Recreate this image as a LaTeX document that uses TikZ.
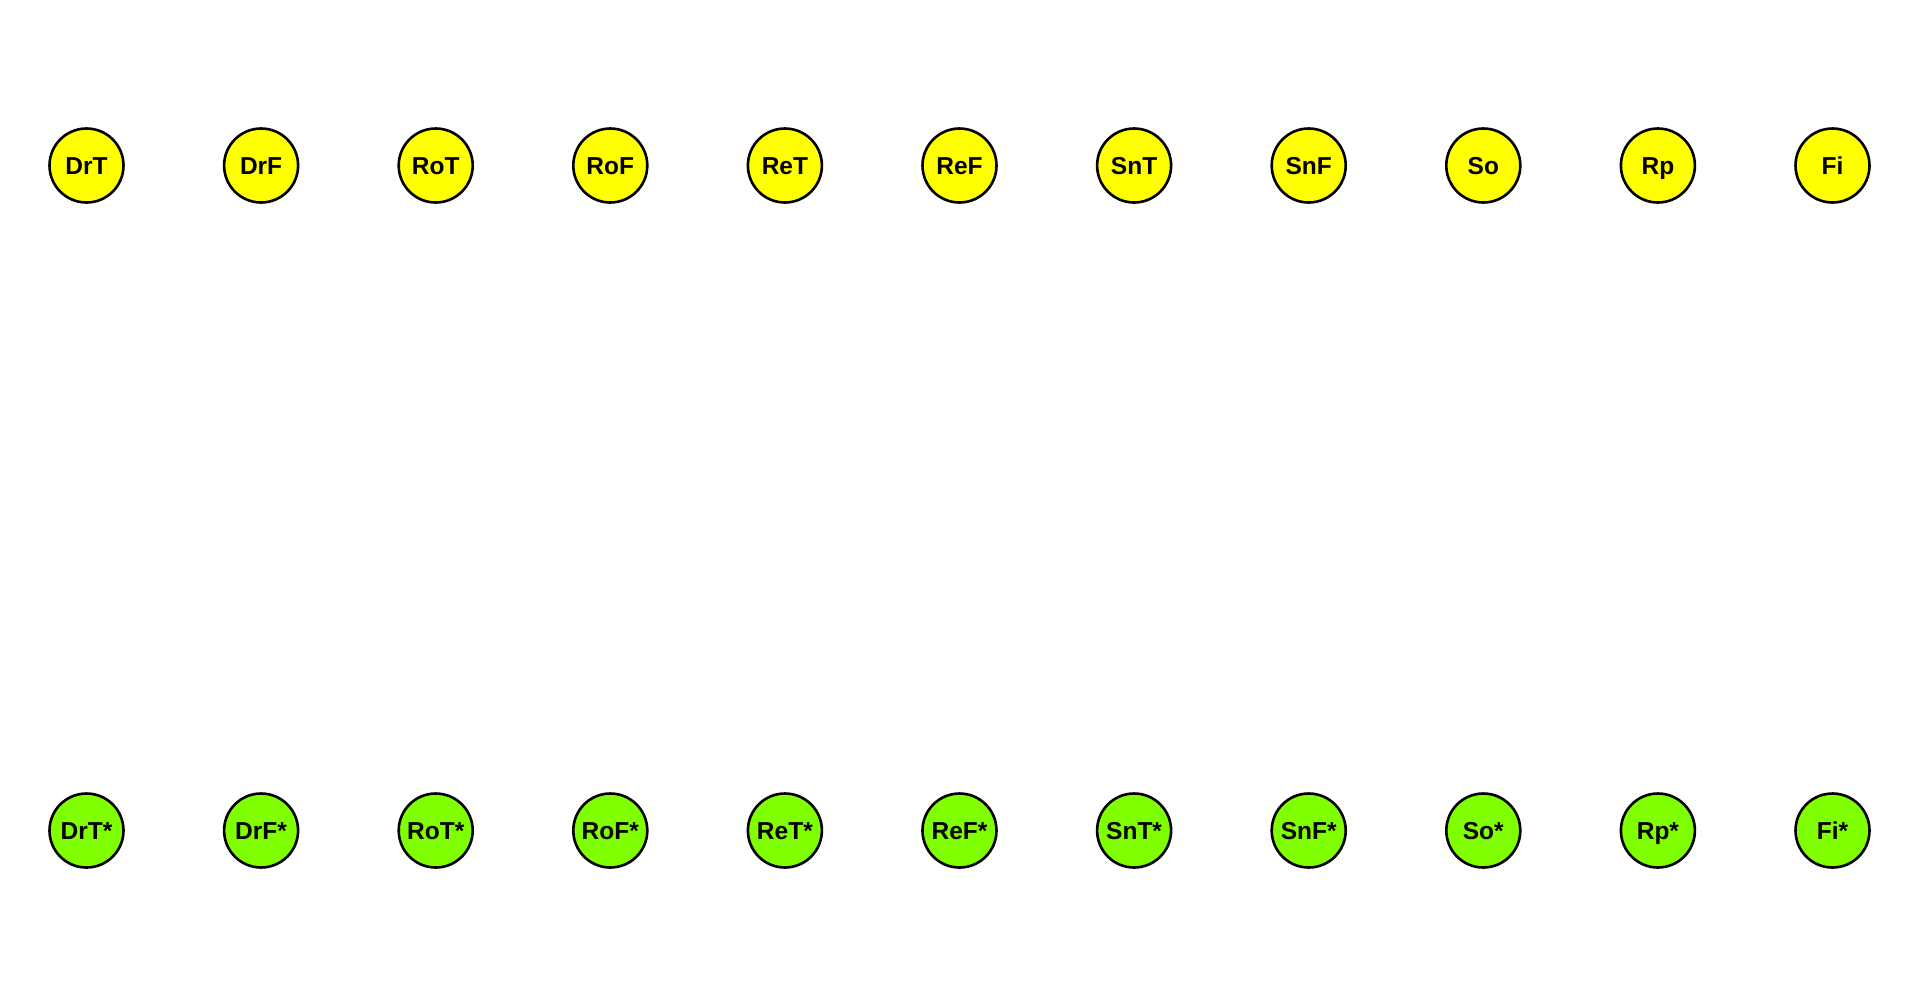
\documentclass[tikz,border=0pt]{standalone}
\usepackage{fontspec}
\setmainfont{Liberation Sans}
\definecolor{nodeyellow}{RGB}{255,255,0}
\definecolor{nodegreen}{RGB}{128,255,0}
\begin{document}
\begin{tikzpicture}[x=1pt,y=-1pt,
  st/.style={circle,draw=black,line width=2.6pt,minimum size=74pt,inner sep=0pt,
    text height=17.5pt,text depth=0pt,font=\fontsize{24.5}{28}\selectfont\bfseries},
  top/.style={st,fill=nodeyellow},
  bot/.style={st,fill=nodegreen}]
\useasboundingbox (0,0) rectangle (1920,997);
\foreach \n [count=\i from 0] in {DrT,DrF,RoT,RoF,ReT,ReF,SnT,SnF,So,Rp,Fi}{
  \node[top] (\n) at (86.5+174.6*\i,165.5) {\n};
  \node[bot] (\n s) at (86.5+174.6*\i,830.5) {\n*};
}
\end{tikzpicture}
\end{document}
